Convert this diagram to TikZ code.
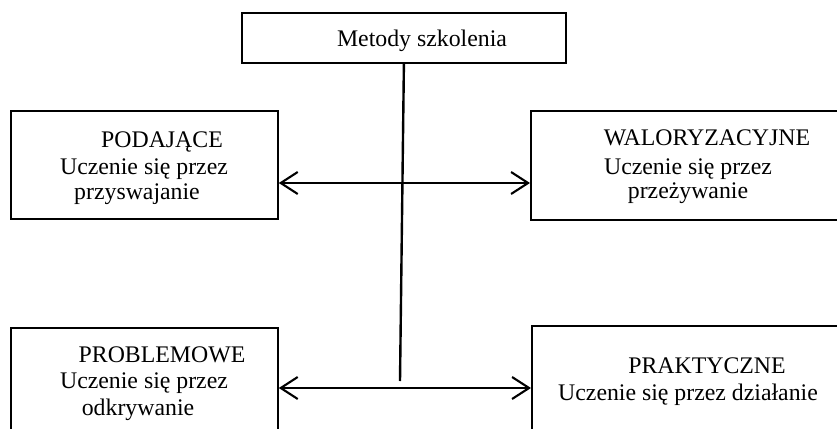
\documentclass[tikz,border=0pt]{standalone}
\usepackage{fontspec}
\setmainfont{Liberation Serif}
\usetikzlibrary{arrows.meta}
\begin{document}
\begin{tikzpicture}[x=1pt,y=-1pt,
  box/.style={draw=black,line width=1.8pt,rectangle,inner sep=0pt,anchor=north west},
  lbl/.style={inner sep=0pt,anchor=base,font=\fontsize{23.8}{27.4}\selectfont},
  conn/.style={line width=2.4pt},
  biarrow/.style={line width=2.1pt,{Straight Barb[length=17pt,width=22pt,line width=2.1pt]}-{Straight Barb[length=17pt,width=22pt,line width=2.1pt]}}]
\useasboundingbox (0,0) rectangle (837,428);
% boxes
\node[box,minimum width=324pt,minimum height=50pt] (top) at (241,12) {};
\node[box,minimum width=267pt,minimum height=108pt] (lt) at (10,110) {};
\node[box,minimum width=320pt,minimum height=109pt] (rt) at (530,110) {};
\node[box,minimum width=267pt,minimum height=120pt] (lb) at (10,327) {};
\node[box,minimum width=320pt,minimum height=120pt] (rb) at (531,325) {};
% texts
\node[lbl] (t0) at (422,46) {Metody szkolenia};
\node[lbl] (t1) at (162,147) {PODAJĄCE};
\node[lbl] (t2) at (144,174) {Uczenie się przez};
\node[lbl] (t3) at (137,199) {przyswajanie};
\node[lbl] (t4) at (707,145) {WALORYZACYJNE};
\node[lbl] (t5) at (688,174) {Uczenie się przez};
\node[lbl] (t6) at (688,198) {przeżywanie};
\node[lbl] (t7) at (162,362) {PROBLEMOWE};
\node[lbl] (t8) at (144,388) {Uczenie się przez};
\node[lbl] (t9) at (138,415) {odkrywanie};
\node[lbl] (t10) at (707,373) {PRAKTYCZNE};
\node[lbl] (t11) at (688,400) {Uczenie się przez działanie};
% connectors
\coordinate (vend) at (400,381);
\coordinate (ya) at (0,183);
\coordinate (yb) at (0,388);
\draw[conn] (top.south) -- (vend);
\draw[biarrow] (lt.east |- ya) -- (rt.west |- ya);
\draw[biarrow] (lb.east |- yb) -- (rb.west |- yb);
\end{tikzpicture}
\end{document}
